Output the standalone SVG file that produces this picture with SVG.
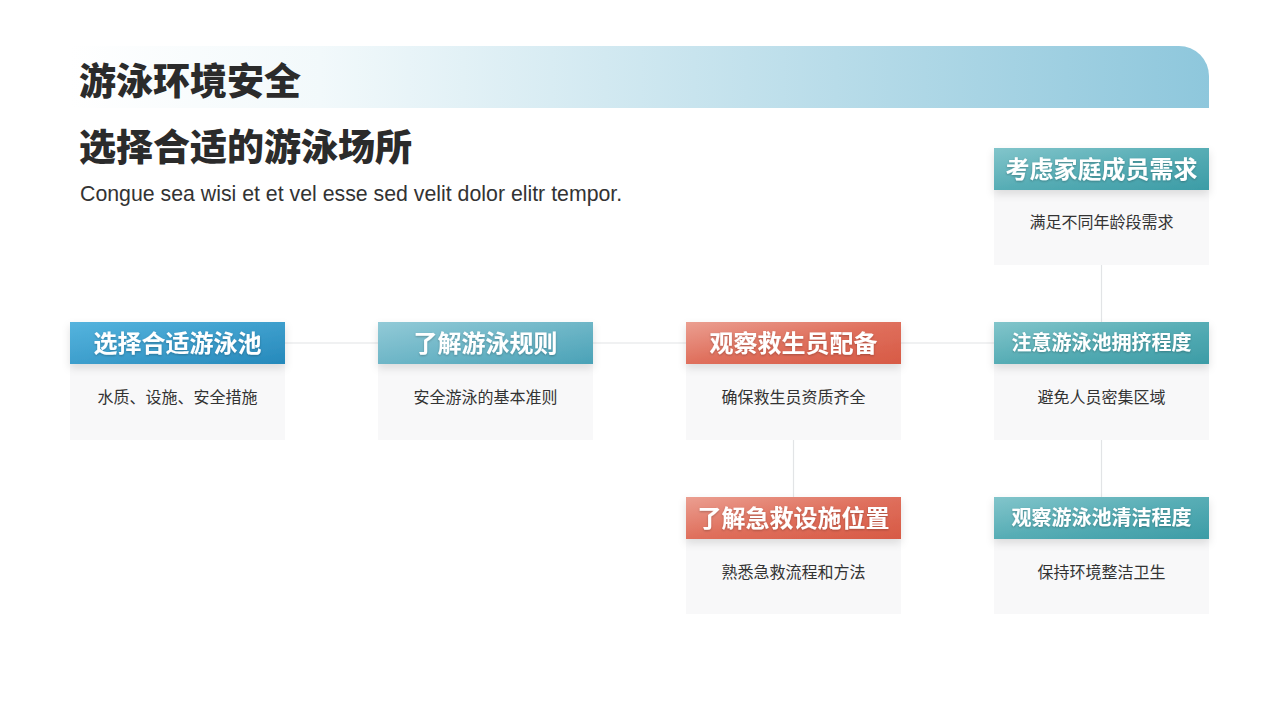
<svg xmlns="http://www.w3.org/2000/svg" width="1280" height="720" viewBox="0 0 1280 720">
<defs>
<linearGradient id="banner" x1="0" y1="0" x2="1" y2="0">
<stop offset="0" stop-color="#ffffff"/>
<stop offset="0.22" stop-color="#f2f9fb"/>
<stop offset="1" stop-color="#8ec7dc"/>
</linearGradient>
<linearGradient id="gBlue" x1="0" y1="0" x2="1" y2="1">
<stop offset="0" stop-color="#55b4de"/>
<stop offset="1" stop-color="#2689bb"/>
</linearGradient>
<linearGradient id="gTealL" x1="0" y1="0" x2="1" y2="1">
<stop offset="0" stop-color="#92cad7"/>
<stop offset="1" stop-color="#4aa2b7"/>
</linearGradient>
<linearGradient id="gRed" x1="0" y1="0" x2="1" y2="1">
<stop offset="0" stop-color="#eb9f91"/>
<stop offset="0.5" stop-color="#df6f5c"/>
<stop offset="1" stop-color="#d75a45"/>
</linearGradient>
<linearGradient id="gTeal" x1="0" y1="0" x2="1" y2="1">
<stop offset="0" stop-color="#82c5cb"/>
<stop offset="0.5" stop-color="#57adb5"/>
<stop offset="1" stop-color="#3c9ca6"/>
</linearGradient>
<filter id="sh" x="-10%" y="-20%" width="120%" height="160%">
<feDropShadow dx="0" dy="4" stdDeviation="4" flood-color="#000" flood-opacity="0.12"/>
</filter>
<filter id="tsh" x="-10%" y="-20%" width="120%" height="160%">
<feDropShadow dx="0" dy="1" stdDeviation="1" flood-color="#000" flood-opacity="0.25"/>
</filter>
</defs>
<style>
.t1{font-family:"Noto Sans CJK SC","Liberation Sans",sans-serif;font-weight:900;fill:#2b2b2b;font-size:37px}
.en{font-family:"Liberation Sans",Arial,sans-serif;font-size:21.3px;fill:#333}
.hd{font-family:"Noto Sans CJK SC","Liberation Sans",sans-serif;font-weight:700;fill:#fff;text-anchor:middle}
.bd{font-family:"Noto Sans CJK SC","Liberation Sans",sans-serif;font-size:16px;fill:#333;text-anchor:middle}
.body{fill:#f8f8f9}
.ln{stroke:#e2e4e6;stroke-width:1.2;fill:none}
</style>
<rect width="1280" height="720" fill="#fff"/>
<path d="M70 46 H1179 A30 30 0 0 1 1209 76 V108 H70 Z" fill="url(#banner)"/>
<text class="t1" x="79" y="95">游泳环境安全</text>
<text class="t1" x="79" y="161">选择合适的游泳场所</text>
<text class="en" x="80" y="201">Congue sea wisi et et vel esse sed velit dolor elitr tempor.</text>
<g id="connectors">
<line class="ln" x1="285" y1="343" x2="378" y2="343"/>
<line class="ln" x1="593" y1="343" x2="686" y2="343"/>
<line class="ln" x1="901" y1="343" x2="994" y2="343"/>
<line class="ln" x1="1101.5" y1="265" x2="1101.5" y2="322"/>
<line class="ln" x1="1101.5" y1="440" x2="1101.5" y2="497"/>
<line class="ln" x1="793.5" y1="440" x2="793.5" y2="497"/>
</g>
<g id="n1">
<rect class="body" x="70" y="364" width="215" height="76"/>
<rect x="70" y="322" width="215" height="42" fill="url(#gBlue)" filter="url(#sh)"/>
<text class="hd" x="177.5" y="352" font-size="24" filter="url(#tsh)">选择合适游泳池</text>
<text class="bd" x="177.5" y="403">水质、设施、安全措施</text>
</g>
<g id="n2">
<rect class="body" x="378" y="364" width="215" height="76"/>
<rect x="378" y="322" width="215" height="42" fill="url(#gTealL)" filter="url(#sh)"/>
<text class="hd" x="485.5" y="352" font-size="24" filter="url(#tsh)">了解游泳规则</text>
<text class="bd" x="485.5" y="403">安全游泳的基本准则</text>
</g>
<g id="n3">
<rect class="body" x="686" y="364" width="215" height="76"/>
<rect x="686" y="322" width="215" height="42" fill="url(#gRed)" filter="url(#sh)"/>
<text class="hd" x="793.5" y="352" font-size="24" filter="url(#tsh)">观察救生员配备</text>
<text class="bd" x="793.5" y="403">确保救生员资质齐全</text>
</g>
<g id="n4">
<rect class="body" x="994" y="364" width="215" height="76"/>
<rect x="994" y="322" width="215" height="42" fill="url(#gTeal)" filter="url(#sh)"/>
<text class="hd" x="1101.5" y="350" font-size="20" filter="url(#tsh)">注意游泳池拥挤程度</text>
<text class="bd" x="1101.5" y="403">避免人员密集区域</text>
</g>
<g id="n5">
<rect class="body" x="994" y="190" width="215" height="75"/>
<rect x="994" y="148" width="215" height="42" fill="url(#gTeal)" filter="url(#sh)"/>
<text class="hd" x="1101.5" y="178" font-size="24" filter="url(#tsh)">考虑家庭成员需求</text>
<text class="bd" x="1101.5" y="228">满足不同年龄段需求</text>
</g>
<g id="n6">
<rect class="body" x="686" y="539" width="215" height="75"/>
<rect x="686" y="497" width="215" height="42" fill="url(#gRed)" filter="url(#sh)"/>
<text class="hd" x="793.5" y="527" font-size="24" filter="url(#tsh)">了解急救设施位置</text>
<text class="bd" x="793.5" y="578">熟悉急救流程和方法</text>
</g>
<g id="n7">
<rect class="body" x="994" y="539" width="215" height="75"/>
<rect x="994" y="497" width="215" height="42" fill="url(#gTeal)" filter="url(#sh)"/>
<text class="hd" x="1101.5" y="525" font-size="20" filter="url(#tsh)">观察游泳池清洁程度</text>
<text class="bd" x="1101.5" y="578">保持环境整洁卫生</text>
</g>
</svg>
